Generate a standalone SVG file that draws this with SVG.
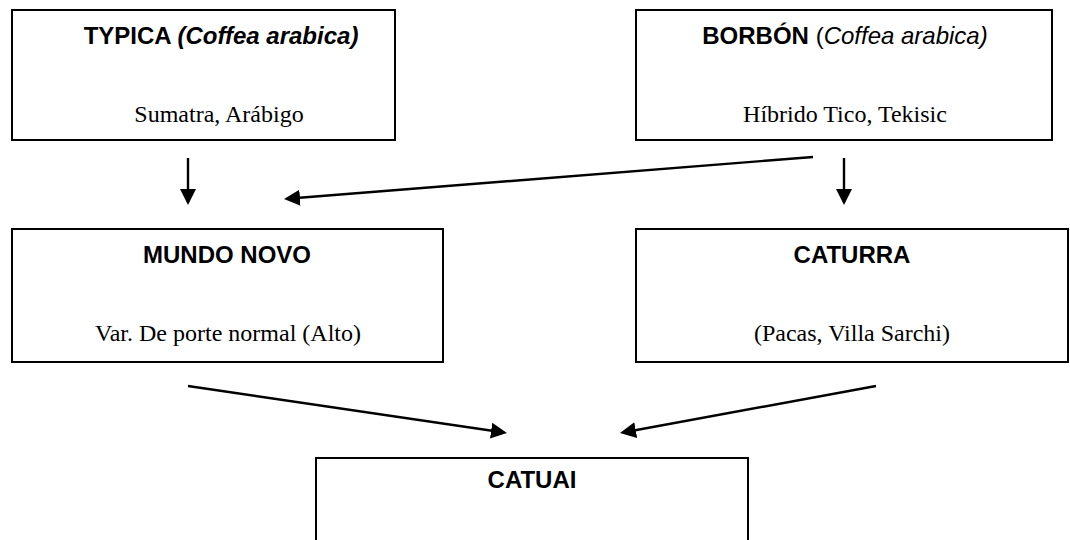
<svg xmlns="http://www.w3.org/2000/svg" width="1070" height="540" viewBox="0 0 1070 540">
<style>
.box{fill:#fff;stroke:#000;stroke-width:2}
.t{font-family:"Liberation Sans",Arial,sans-serif;font-weight:bold;font-size:24px;fill:#000}
.b{font-family:"Liberation Serif","Times New Roman",serif;font-size:24px;fill:#000}
.c{stroke:#000;stroke-width:2.4;fill:none;marker-end:url(#ah)}
</style>
<defs>
<marker id="ah" viewBox="0 0 16 16" refX="13" refY="8" markerWidth="16" markerHeight="16" markerUnits="userSpaceOnUse" orient="auto">
<path d="M0,0 L16,8 L0,16 z" fill="#000"/>
</marker>
</defs>
<rect width="1070" height="540" fill="#fff"/>
<g id="typica">
<rect class="box" x="12" y="10" width="383" height="130"/>
<text class="t" x="221" y="44" text-anchor="middle">TYPICA <tspan font-style="italic">(Coffea arabica)</tspan></text>
<text class="b" x="219" y="122" text-anchor="middle">Sumatra, Arábigo</text>
</g>
<g id="borbon">
<rect class="box" x="636" y="10" width="416" height="130"/>
<text class="t" x="845" y="44" text-anchor="middle">BORBÓN <tspan font-weight="normal">(</tspan><tspan font-weight="normal" font-style="italic">Coffea arabica)</tspan></text>
<text class="b" x="845" y="122" text-anchor="middle">Híbrido Tico, Tekisic</text>
</g>
<g id="mundonovo">
<rect class="box" x="12" y="229" width="431" height="133"/>
<text class="t" x="227" y="263" text-anchor="middle">MUNDO NOVO</text>
<text class="b" x="228" y="341" text-anchor="middle">Var. De porte normal (Alto)</text>
</g>
<g id="caturra">
<rect class="box" x="636" y="229" width="432" height="133"/>
<text class="t" x="852" y="263" text-anchor="middle">CATURRA</text>
<text class="b" x="852" y="341" text-anchor="middle">(Pacas, Villa Sarchi)</text>
</g>
<g id="catuai">
<rect class="box" x="316" y="458" width="432" height="100"/>
<text class="t" x="532" y="488" text-anchor="middle" font-size="29">CATUAI</text>
</g>
<g id="connectors">
<line class="c" x1="188" y1="158" x2="188" y2="202"/>
<line class="c" x1="844" y1="158" x2="844" y2="202"/>
<line class="c" x1="813" y1="157" x2="287" y2="198.76"/>
<line class="c" x1="188" y1="386" x2="504" y2="432.56"/>
<line class="c" x1="876" y1="386" x2="622.95" y2="432.46"/>
</g>
</svg>
